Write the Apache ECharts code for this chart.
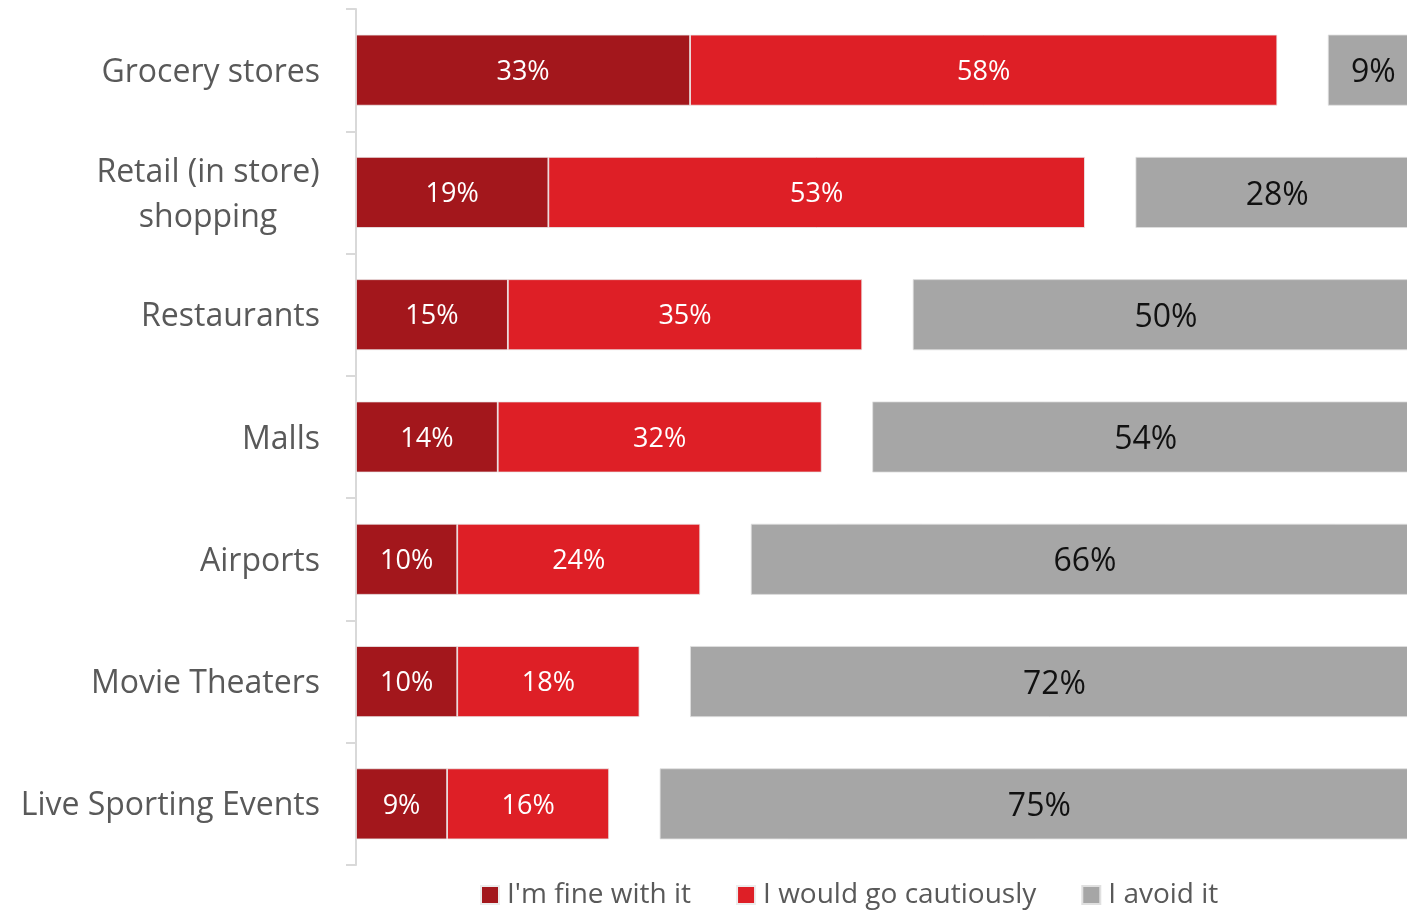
<!DOCTYPE html>
<html>
<head>
<meta charset="utf-8">
<script src="https://cdn.jsdelivr.net/npm/echarts@6/dist/echarts.min.js"></script>
<style>
html,body{margin:0;padding:0;background:#fff;}
#chart{width:1407px;height:910px;}
</style>
</head>
<body>
<div id="chart"></div>
<script>
var categories = ['Grocery stores','Retail (in store)\nshopping','Restaurants','Malls','Airports','Movie Theaters','Live Sporting Events'];
var seriesNames = ["I'm fine with it", 'I would go cautiously', 'I avoid it'];
var fineValues = [33,19,15,14,10,10,9];
var cautiousValues = [58,53,35,32,24,18,16];
var avoidValues = [9,28,50,54,66,72,75];
var gapValues = [5,5,5,5,5,5,5];

var FONT = '"Open Sans", sans-serif';
var chart = echarts.init(document.getElementById('chart'));
var cats = categories.slice().reverse();
function rev(a){return a.slice().reverse();}

chart.setOption({
  animation:false,
  grid:{left:356,width:1063,top:9,bottom:45,containLabel:false,outerBoundsMode:'none'},
  xAxis:{type:'value',min:0,max:105,show:false},
  yAxis:{
    type:'category',data:cats,
    axisLine:{show:true,lineStyle:{color:'#d9d9d9',width:2}},
    axisTick:{show:true,length:10,lineStyle:{color:'#d9d9d9',width:2}},
    axisLabel:{
      color:'#595959',fontSize:32,fontFamily:FONT,margin:36,padding:[5,0,0,0],
      formatter:function(v){
        if(v.indexOf('\n')>=0){
          var p=v.split('\n');
          return '{c|'+p[0]+'}\n{c|'+p[1]+'}';
        }
        return v;
      },
      rich:{c:{width:224,align:'center',fontSize:32,fontFamily:FONT,color:'#595959',lineHeight:45}}
    }
  },
  legend:{
    data:seriesNames,left:480,bottom:1,padding:0,itemWidth:18,itemHeight:18,itemGap:45,
    icon:'rect',
    textStyle:{color:'#595959',fontSize:28,fontFamily:FONT,padding:[0,0,0,3]}
  },
  series:[
    {name:seriesNames[0],type:'bar',stack:'s',data:rev(fineValues),barWidth:71,
     itemStyle:{color:'#A3171C',borderColor:'#ececec',borderWidth:0.8},
     label:{show:true,position:'inside',formatter:'{c}%',color:'#fff',fontSize:27,fontFamily:FONT,offset:[0,2]}},
    {name:seriesNames[1],type:'bar',stack:'s',data:rev(cautiousValues),barWidth:71,
     itemStyle:{color:'#DE1F26',borderColor:'#ececec',borderWidth:0.8},
     label:{show:true,position:'inside',formatter:'{c}%',color:'#fff',fontSize:27,fontFamily:FONT,offset:[0,2]}},
    {name:'gap',type:'bar',stack:'s',data:rev(gapValues),barWidth:71,silent:true,
     itemStyle:{color:'rgba(0,0,0,0)'},label:{show:false}},
    {name:seriesNames[2],type:'bar',stack:'s',data:rev(avoidValues),barWidth:71,
     itemStyle:{color:'#A6A6A6',borderColor:'#e0e0e0',borderWidth:0.8},
     label:{show:true,position:'inside',formatter:'{c}%',color:'#111',fontSize:32,fontFamily:FONT,offset:[0,3]}}
  ]
});
</script>
</body>
</html>
